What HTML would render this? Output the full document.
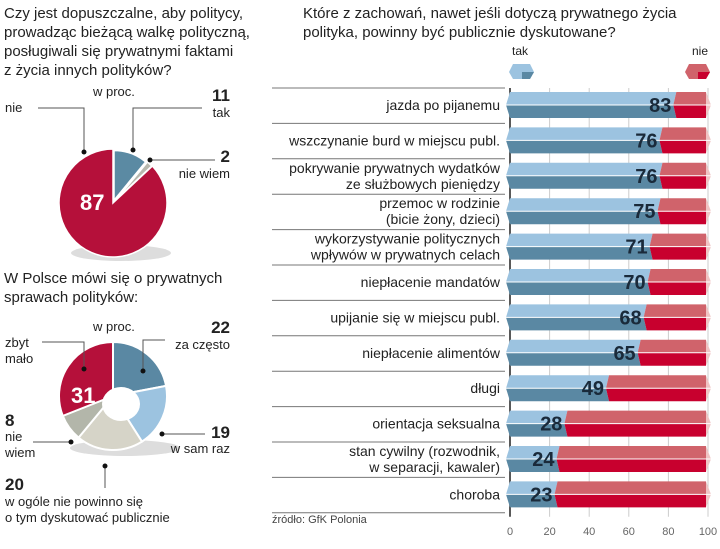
<!DOCTYPE html>
<html><head><meta charset="utf-8"><style>
body{margin:0;background:#fff;width:720px;height:549px;overflow:hidden;font-family:"Liberation Sans",sans-serif;color:#222}
svg{display:block}
text{font-family:"Liberation Sans","Noto Sans CJK SC",sans-serif}
</style></head><body>
<svg id="c" width="720" height="549" viewBox="0 0 720 549" xmlns="http://www.w3.org/2000/svg">
<g font-size="15" fill="#222">
<text x="4" y="18">Czy jest dopuszczalne, aby politycy,</text>
<text x="4" y="37">prowadząc bieżącą walkę polityczną,</text>
<text x="4" y="56">posługiwali się prywatnymi faktami</text>
<text x="4" y="75">z życia innych polityków?</text>
</g>
<g font-size="15" fill="#222">
<text x="4" y="283">W Polsce mówi się o prywatnych</text>
<text x="4" y="302">sprawach polityków:</text>
</g>
<g font-size="15" fill="#222">
<text x="303" y="18">Które z zachowań, nawet jeśli dotyczą prywatnego życia</text>
<text x="303" y="37">polityka, powinny być publicznie dyskutowane?</text>
</g>
<g id="pie1"></g>
<g id="pie2"></g>
<g id="bars"></g>
<text x="272" y="523" font-size="11" fill="#444">źródło: GfK Polonia</text>
</svg>
<script>
const pie1Labels=['tak','nie wiem','nie'];
const pie1Values=[11,2,87];
const pie2Labels=['za często','w sam raz','w ogóle nie powinno się','nie wiem','zbyt mało'];
const pie2Values=[22,19,20,8,31];
const barCategories=[['jazda po pijanemu'],['wszczynanie burd w miejscu publ.'],['pokrywanie prywatnych wydatków','ze służbowych pieniędzy'],['przemoc w rodzinie','(bicie żony, dzieci)'],['wykorzystywanie politycznych','wpływów w prywatnych celach'],['niepłacenie mandatów'],['upijanie się w miejscu publ.'],['niepłacenie alimentów'],['długi'],['orientacja seksualna'],['stan cywilny (rozwodnik,','w separacji, kawaler)'],['choroba']];
const takValues=[83,76,76,75,71,70,68,65,49,28,24,23];
const xTicks=[0,20,40,60,80,100];

const NS='http://www.w3.org/2000/svg';
function mk(tag,attrs,parent){const e=document.createElementNS(NS,tag);for(const k in attrs)e.setAttribute(k,attrs[k]);parent.appendChild(e);return e;}
function pt(cx,cy,r,f){const a=f*2*Math.PI-Math.PI/2;return [cx+r*Math.cos(a),cy+r*Math.sin(a)];}
function slice(cx,cy,r,ri,f0,f1){const [x0,y0]=pt(cx,cy,r,f0),[x1,y1]=pt(cx,cy,r,f1);const lg=(f1-f0)>0.5?1:0;
 if(ri>0){const [a0,b0]=pt(cx,cy,ri,f1),[a1,b1]=pt(cx,cy,ri,f0);return `M${x0},${y0}A${r},${r} 0 ${lg} 1 ${x1},${y1}L${a0},${b0}A${ri},${ri} 0 ${lg} 0 ${a1},${b1}Z`;}
 return `M${cx},${cy}L${x0},${y0}A${r},${r} 0 ${lg} 1 ${x1},${y1}Z`;}

// pie 1
(function(){const g=document.getElementById('pie1');const cx=113,cy=203,r=54;
 mk('ellipse',{cx:cx+8,cy:cy+50,rx:50,ry:8,fill:'#ddd'},g);
 const cols=['#5b8aa3','#b8b8ae','#b5103a'];const tot=pie1Values.reduce((a,b)=>a+b,0);let f=0;
 pie1Values.forEach((v,i)=>{const f0=f/tot,f1=(f+v)/tot;f+=v;const mid=(f0+f1)/2;let ox=0,oy=0,rr=r;
  if(i<2){const [dx,dy]=pt(0,0,i==0?3:6,mid);ox=dx;oy=dy;rr=i==0?r*0.92:r*0.88;}
  const p=mk('path',{d:slice(cx+ox,cy+oy,rr,0,f0,f1),fill:cols[i],stroke:'#fff','stroke-width':1.5},g);
  
  });
 mk('text',{x:80,y:210,'font-size':22,'font-weight':'bold',fill:'#fff'},g).textContent=pie1Values[2];
 mk('text',{x:93,y:96,'font-size':13,fill:'#222'},g).textContent='w proc.';
 mk('text',{x:5,y:112,'font-size':13,fill:'#222'},g).textContent='nie';
 mk('polyline',{points:'38,108 84,108 84,150',fill:'none',stroke:'#555'},g);mk('circle',{cx:84,cy:152,r:2.5,fill:'#111'},g);
 mk('text',{x:230,y:101,'font-size':17,'font-weight':'bold','text-anchor':'end',fill:'#222'},g).textContent=pie1Values[0];
 mk('text',{x:230,y:117,'font-size':13,'text-anchor':'end',fill:'#222'},g).textContent='tak';
 mk('polyline',{points:'202,108 133,108 133,149',fill:'none',stroke:'#555'},g);mk('circle',{cx:133,cy:150,r:2.5,fill:'#111'},g);
 mk('text',{x:230,y:162,'font-size':17,'font-weight':'bold','text-anchor':'end',fill:'#222'},g).textContent=pie1Values[1];
 mk('text',{x:230,y:178,'font-size':13,'text-anchor':'end',fill:'#222'},g).textContent='nie wiem';
 mk('line',{x1:150,y1:160,x2:215,y2:160,stroke:'#555'},g);mk('circle',{cx:150,cy:160,r:2.5,fill:'#111'},g);
})();

// donut 2
(function(){const g=document.getElementById('pie2');const cx=113,cy=396,r=54,ri=17;
 mk('ellipse',{cx:cx+12,cy:cy+52,rx:55,ry:8,fill:'#ddd'},g);
 const cols=['#5a88a3','#9cc3e0','#d6d4c8','#b3b6aa','#b5103a'];const tot=pie2Values.reduce((a,b)=>a+b,0);let f=0;
 pie2Values.forEach((v,i)=>{const f0=f/tot,f1=(f+v)/tot;f+=v;
  const p=mk('path',{d:slice(cx,cy,r,0,f0,f1),fill:cols[i],stroke:'#fff','stroke-width':2},g);
  
  });
 mk('ellipse',{cx:cx+8,cy:cy+8,rx:ri+2,ry:ri,fill:'#fff'},g);
 mk('text',{x:71,y:403,'font-size':22,'font-weight':'bold',fill:'#fff'},g).textContent=pie2Values[4];
 mk('text',{x:93,y:331,'font-size':13,fill:'#222'},g).textContent='w proc.';
 mk('text',{x:5,y:347,'font-size':13,fill:'#222'},g).textContent='zbyt';
 mk('text',{x:5,y:363,'font-size':13,fill:'#222'},g).textContent='mało';
 mk('polyline',{points:'42,342 84,342 84,368',fill:'none',stroke:'#555'},g);mk('circle',{cx:84,cy:369,r:2.5,fill:'#111'},g);
 mk('text',{x:230,y:333,'font-size':17,'font-weight':'bold','text-anchor':'end',fill:'#222'},g).textContent=pie2Values[0];
 mk('text',{x:230,y:349,'font-size':13,'text-anchor':'end',fill:'#222'},g).textContent='za często';
 mk('polyline',{points:'165,340 143,340 143,370',fill:'none',stroke:'#555'},g);mk('circle',{cx:143,cy:371,r:2.5,fill:'#111'},g);
 mk('text',{x:230,y:438,'font-size':17,'font-weight':'bold','text-anchor':'end',fill:'#222'},g).textContent=pie2Values[1];
 mk('text',{x:230,y:453,'font-size':13,'text-anchor':'end',fill:'#222'},g).textContent='w sam raz';
 mk('line',{x1:162,y1:434,x2:205,y2:434,stroke:'#555'},g);mk('circle',{cx:162,cy:434,r:2.5,fill:'#111'},g);
 mk('text',{x:5,y:426,'font-size':17,'font-weight':'bold',fill:'#222'},g).textContent=pie2Values[3];
 mk('text',{x:5,y:441,'font-size':13,fill:'#222'},g).textContent='nie';
 mk('text',{x:5,y:457,'font-size':13,fill:'#222'},g).textContent='wiem';
 mk('line',{x1:33,y1:442,x2:70,y2:442,stroke:'#555'},g);mk('circle',{cx:71,cy:442,r:2.5,fill:'#111'},g);
 mk('text',{x:5,y:490,'font-size':17,'font-weight':'bold',fill:'#222'},g).textContent=pie2Values[2];
 mk('text',{x:5,y:506,'font-size':13,fill:'#222'},g).textContent='w ogóle nie powinno się';
 mk('text',{x:5,y:522,'font-size':13,fill:'#222'},g).textContent='o tym dyskutować publicznie';
 mk('line',{x1:105,y1:466,x2:105,y2:488,stroke:'#555'},g);mk('circle',{cx:105,cy:466,r:2.5,fill:'#111'},g);
})();

// bars
(function(){const g=document.getElementById('bars');
 const x0=510,x1=708;const xs=v=>x0+(x1-x0)*v/100;
 const top=88,rh=35.4;const ys=i=>top+i*rh;
 // legend
 mk('text',{x:512,y:55,'font-size':12,fill:'#222'},g).textContent='tak';
 mk('text',{x:708,y:55,'font-size':12,'text-anchor':'end',fill:'#222'},g).textContent='nie';
 mk('path',{d:'M509,72L513,64L530,64L534,72L530,79L513,79Z',fill:'#9cc3e0'},g);
 mk('path',{d:'M522,72L534,72L530,79L522,79Z',fill:'#5a88a3'},g);
 mk('path',{d:'M685,72L689,64L706,64L710,72L706,79L689,79Z',fill:'#d0636b'},g);
 mk('path',{d:'M698,72L710,72L706,79L698,79Z',fill:'#c8002e'},g);
 // gridlines
 xTicks.forEach(t=>{const l=mk('line',{x1:xs(t),y1:top,x2:xs(t),y2:ys(takValues.length)+4,stroke:t==0?'#222':'#ccc','stroke-width':t==0?1.5:1},g);
  
  const tx=mk('text',{x:xs(t),y:ys(takValues.length)+22,'font-size':11,'text-anchor':'middle',fill:'#666'},g);tx.textContent=t;
  });
 takValues.forEach((v,i)=>{const y=ys(i);
  mk('line',{x1:272,y1:y,x2:505,y2:y,stroke:'#777'},g);
  const by=y+4,bh=26,mid=by+bh/2;const xv=xs(v),xe=xs(100)-2;
  const row=mk('g',{},g);
  mk('path',{d:`M${x0-4},${mid}L${x0},${by}L${xv+2},${by}L${xv-1},${mid}Z`,fill:'#9cc3e0'},row);
  mk('path',{d:`M${x0-4},${mid}L${xv-1},${mid}L${xv+2},${by+bh}L${x0},${by+bh}Z`,fill:'#5a88a3'},row);
  mk('path',{d:`M${xv+2},${by}L${xe},${by}L${xe},${mid}L${xv-1},${mid}Z`,fill:'#d0636b'},row);
  mk('path',{d:`M${xv-1},${mid}L${xe},${mid}L${xe},${by+bh}L${xv+2},${by+bh}Z`,fill:'#c8002e'},row);
  mk('path',{d:`M${xe},${by}L${xe+5},${mid}L${xe},${by+bh}Z`,fill:'#f0c4c4'},row);
  mk('line',{x1:x0-4,y1:mid,x2:xe+5,y2:mid,stroke:'#fff','stroke-width':1},row);
  const t=mk('text',{x:xv-3,y:mid+7,'font-size':20,'font-weight':'bold','text-anchor':'end',fill:'#1a2a3a'},row);t.textContent=v;
  const lines=barCategories[i];
  lines.forEach((s,j)=>{mk('text',{x:500,y:lines.length==1?mid+5:mid-3+j*16,'font-size':14,'text-anchor':'end',fill:'#222'},row).textContent=s;});
 });
 mk('line',{x1:272,y1:ys(takValues.length),x2:505,y2:ys(takValues.length),stroke:'#777'},g);
})();
</script>
</body></html>
